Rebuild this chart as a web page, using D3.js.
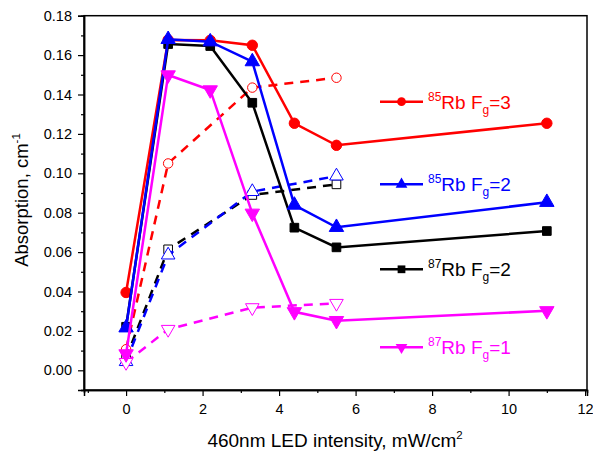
<!DOCTYPE html>
<html>
<head>
<meta charset="utf-8">
<script src="https://cdn.jsdelivr.net/npm/d3@7"></script>
<style>
  body { margin: 0; background: #fff; }
  text { font-family: "Liberation Sans", Arial, sans-serif; }
</style>
</head>
<body>
<div id="chart"></div>
<script>
// intensity values
var xSolid = [0, 1.1, 2.2, 3.3, 4.4, 5.5, 11];
var xDashed = [0, 1.1, 3.3, 5.5];

// absorption, solid lines (filled markers)
var rb85f3 = [0.0395, 0.1677, 0.1675, 0.165, 0.1254, 0.1142, 0.1254];
var rb85f2 = [0.0216, 0.168, 0.1668, 0.1567, 0.0839, 0.0726, 0.0853];
var rb87f2 = [0.0221, 0.1656, 0.1646, 0.1358, 0.0724, 0.0624, 0.0707];
var rb87f1 = [0.0083, 0.1499, 0.1423, 0.0797, 0.0297, 0.0252, 0.0302];

// absorption, dashed lines (open markers)
var rb85f3d = [0.0107, 0.105, 0.1435, 0.1485];
var rb85f2d = [0.0044, 0.0585, 0.0907, 0.0986];
var rb87f2d = [0.0062, 0.0614, 0.089, 0.0944];
var rb87f1d = [0.004, 0.0208, 0.0318, 0.034];

var xTicks = [0, 2, 4, 6, 8, 10, 12];
var yTicks = [0, 0.02, 0.04, 0.06, 0.08, 0.10, 0.12, 0.14, 0.16, 0.18];

var width = 593, height = 451;
var margin = {top: 15.7, right: 6, bottom: 61, left: 84};

var svg = d3.select("#chart").append("svg")
    .attr("width", width)
    .attr("height", height);

var x = d3.scaleLinear().domain([-1.1, 12.05]).range([margin.left, width - margin.right]);
var y = d3.scaleLinear().domain([-0.01, 0.18]).range([height - margin.bottom, margin.top]);

// frame
svg.append("rect")
    .attr("x", x(-1.1)).attr("y", y(0.18))
    .attr("width", x(12.05) - x(-1.1)).attr("height", y(-0.01) - y(0.18))
    .attr("fill", "none").attr("stroke", "#000").attr("stroke-width", 1.5);

// x axis
svg.append("g")
    .attr("transform", `translate(0, ${y(-0.01)})`)
    .call(d3.axisBottom(x).tickValues(xTicks).tickSize(6).tickPadding(8).tickFormat(d3.format("d")));
svg.append("g")
    .attr("transform", `translate(0, ${y(-0.01)})`)
    .call(d3.axisBottom(x).tickValues(d3.range(-1, 12, 2)).tickSize(3).tickFormat(""));

// y axis
svg.append("g")
    .attr("transform", `translate(${x(-1.1)}, 0)`)
    .call(d3.axisLeft(y).tickValues(yTicks).tickSize(6).tickPadding(6).tickFormat(d3.format(".2f")));
svg.append("g")
    .attr("transform", `translate(${x(-1.1)}, 0)`)
    .call(d3.axisLeft(y).tickValues([-0.01, 0.01, 0.03, 0.05, 0.07, 0.09, 0.11, 0.13, 0.15, 0.17]).tickSize(3).tickFormat(""));

svg.selectAll(".domain").attr("stroke", "#000").attr("stroke-width", 1.5);
svg.selectAll(".tick line").attr("stroke", "#000").attr("stroke-width", 1.2);
svg.selectAll(".tick text").attr("font-size", 14.5).attr("fill", "#000")
    .style("font-family", "Liberation Sans, Arial, sans-serif");

// axis labels
var xl = svg.append("text")
    .attr("x", 335).attr("y", 447)
    .attr("text-anchor", "middle")
    .attr("font-size", 19);
xl.append("tspan").text("460nm LED intensity, mW/cm");
xl.append("tspan").attr("dy", -8).attr("font-size", 11.5).text("2");

var yl = svg.append("text")
    .attr("transform", "translate(28, 200) rotate(-90)")
    .attr("text-anchor", "middle")
    .attr("font-size", 18.5);
yl.append("tspan").text("Absorption, cm");
yl.append("tspan").attr("dy", -8).attr("font-size", 11.5).text("-1");

var series = [
  {xs: xDashed, ys: rb85f3d, color: "#ff0000", sym: d3.symbolCircle, size: 70, rot: 0, dashed: true},
  {xs: xDashed, ys: rb87f2d, color: "#000000", sym: d3.symbolSquare, size: 75, rot: 0, dashed: true},
  {xs: xDashed, ys: rb85f2d, color: "#0000ff", sym: d3.symbolTriangle, size: 80, rot: 0, dashed: true},
  {xs: xDashed, ys: rb87f1d, color: "#ff00ff", sym: d3.symbolTriangle, size: 80, rot: 180, dashed: true},
  {xs: xSolid, ys: rb85f3, color: "#ff0000", sym: d3.symbolCircle, size: 85, rot: 0, dashed: false},
  {xs: xSolid, ys: rb87f2, color: "#000000", sym: d3.symbolSquare, size: 75, rot: 0, dashed: false},
  {xs: xSolid, ys: rb85f2, color: "#0000ff", sym: d3.symbolTriangle, size: 90, rot: 0, dashed: false},
  {xs: xSolid, ys: rb87f1, color: "#ff00ff", sym: d3.symbolTriangle, size: 90, rot: 180, dashed: false}
];

var line = d3.line().x(d => x(d[0])).y(d => y(d[1]));

series.forEach(function(s) {
  var pts = s.xs.map((v, i) => [v, s.ys[i]]);
  svg.append("path")
      .datum(pts)
      .attr("d", line)
      .attr("fill", "none")
      .attr("stroke", s.color)
      .attr("stroke-width", 2.5)
      .attr("stroke-dasharray", s.dashed ? "9,7" : null);
  svg.selectAll(null)
      .data(pts)
      .enter()
      .append("path")
      .attr("d", d3.symbol().type(s.sym).size(s.size))
      .attr("transform", d => `translate(${x(d[0])}, ${y(d[1])}) rotate(${s.rot})`)
      .attr("fill", s.dashed ? "#fff" : s.color)
      .attr("stroke", s.color)
      .attr("stroke-width", 1);
});

// legend
var legend = [
  {iso: "85", g: "3", color: "#ff0000", sym: d3.symbolCircle, rot: 0, ly: 101.7},
  {iso: "85", g: "2", color: "#0000ff", sym: d3.symbolTriangle, rot: 0, ly: 184.3},
  {iso: "87", g: "2", color: "#000000", sym: d3.symbolSquare, rot: 0, ly: 269.3},
  {iso: "87", g: "1", color: "#ff00ff", sym: d3.symbolTriangle, rot: 180, ly: 347.3}
];

legend.forEach(function(l) {
  svg.append("line")
      .attr("x1", 380).attr("x2", 423)
      .attr("y1", l.ly).attr("y2", l.ly)
      .attr("stroke", l.color).attr("stroke-width", 2.5);
  svg.append("path")
      .attr("d", d3.symbol().type(l.sym).size(60))
      .attr("transform", `translate(401.5, ${l.ly}) rotate(${l.rot})`)
      .attr("fill", l.color);
  var t = svg.append("text")
      .attr("x", 428).attr("y", l.ly + 7)
      .attr("fill", l.color)
      .attr("font-size", 19);
  t.append("tspan").attr("dy", -8).attr("font-size", 12).text(l.iso);
  t.append("tspan").attr("dy", 8).text("Rb F");
  t.append("tspan").attr("dy", 5).attr("font-size", 12).text("g");
  t.append("tspan").attr("dy", -5).text("=" + l.g);
});
</script>
</body>
</html>
